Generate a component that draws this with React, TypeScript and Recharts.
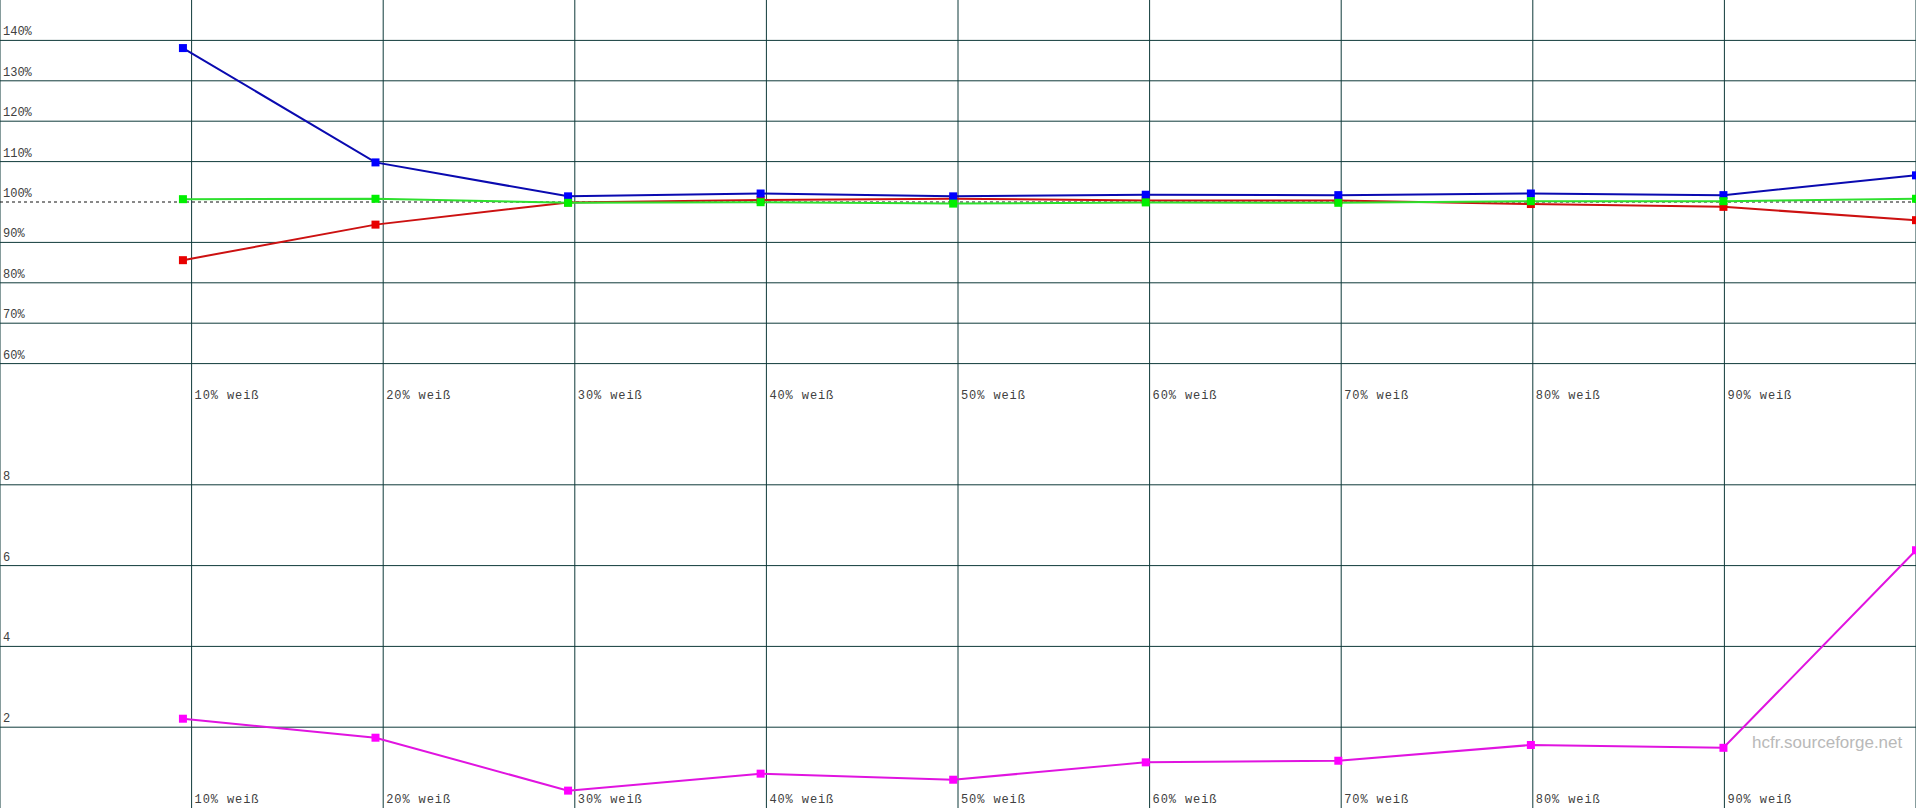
import {
  LineChart,
  Line,
  XAxis,
  YAxis,
  CartesianGrid,
  ReferenceLine,
} from "recharts";

// ---------------------------------------------------------------------------
// Data
// ---------------------------------------------------------------------------

const steps = [10, 20, 30, 40, 50, 60, 70, 80, 90, 100];
const gridSteps = [0, 10, 20, 30, 40, 50, 60, 70, 80, 90];

const redValues = [85.6, 94.4, 99.9, 100.5, 100.8, 100.4, 100.35, 99.5, 98.8, 95.5];
const greenValues = [100.7, 100.8, 99.8, 99.95, 99.6, 99.9, 99.8, 100.2, 100.2, 100.8];
const blueValues = [138.1, 109.8, 101.4, 102.1, 101.4, 101.8, 101.7, 102.1, 101.7, 106.6];
const deltaE = [2.21, 1.74, 0.43, 0.85, 0.7, 1.13, 1.17, 1.56, 1.49, 6.38];

const topTicks = [60, 70, 80, 90, 100, 110, 120, 130, 140];
const topGridLines = [60, 70, 80, 90, 110, 120, 130, 140];
const bottomTicks = [2, 4, 6, 8];

const topData = steps.map((pos, i) => ({
  pos,
  red: redValues[i],
  green: greenValues[i],
  blue: blueValues[i],
}));

const bottomData = steps.map((pos, i) => ({ pos, dE: deltaE[i] }));

// ---------------------------------------------------------------------------
// Styles
// ---------------------------------------------------------------------------

const W = 1916;
const H = 404;
const gridColor = "#0f3a3a";
const labelFont = "'Liberation Mono', 'DejaVu Sans Mono', monospace";
const labelColor = "#404040";

// ---------------------------------------------------------------------------
// Ticks & dots
// ---------------------------------------------------------------------------

function XLabel(props: any) {
  const { x, payload } = props;
  if (payload.value === 0) return <g />;
  return (
    <text
      x={x + 3}
      y={H - 5}
      fontFamily={labelFont}
      fontSize={12}
      letterSpacing={0.9}
      fill={labelColor}
      textAnchor="start"
    >
      {`${payload.value}% weiß`}
    </text>
  );
}

function YLabel(props: any) {
  const { y, payload, suffix } = props;
  return (
    <text
      x={3}
      y={y - 5}
      fontFamily={labelFont}
      fontSize={12}
      fill={labelColor}
      textAnchor="start"
    >
      {`${payload.value}${suffix ?? ""}`}
    </text>
  );
}

function SquareDot(props: any) {
  const { cx, cy, color } = props;
  if (cx == null || cy == null) return <g />;
  return <rect x={cx - 4} y={cy - 4} width={8} height={8} fill={color} />;
}

// ---------------------------------------------------------------------------
// App
// ---------------------------------------------------------------------------

export default function App() {
  return (
    <div style={{ position: "relative", width: W, height: H * 2, background: "#fff" }}>
      <style>{`html,body{margin:0;padding:0;overflow:hidden;background:#fff}`}</style>

      {/* RGB levels */}
      <LineChart width={W} height={H} data={topData} margin={{ top: 0, right: 0, bottom: 0, left: 0 }}>
        <CartesianGrid
          xAxisId="grid"
          stroke={gridColor}
          strokeWidth={1}
          horizontalValues={topGridLines}
        />
        <XAxis
          xAxisId="grid"
          dataKey="pos"
          type="number"
          domain={[0, 100]}
          ticks={gridSteps}
          interval={0}
          mirror
          height={20}
          tickSize={0}
          tickMargin={0}
          axisLine={false}
          tick={<XLabel />}
        />
        <XAxis xAxisId="data" dataKey="pos" type="number" domain={[0.5, 100]} hide />
        <YAxis
          type="number"
          domain={[50, 150]}
          ticks={topTicks}
          interval={0}
          mirror
          width={40}
          tickSize={0}
          tickMargin={0}
          axisLine={false}
          tick={<YLabel suffix="%" />}
        />
        <ReferenceLine
          xAxisId="grid"
          y={100}
          stroke="#111"
          strokeWidth={1}
          strokeDasharray="3 3"
        />
        <Line
          xAxisId="data"
          dataKey="red"
          stroke="#cc1111"
          strokeWidth={2}
          dot={<SquareDot color="#e80000" />}
          activeDot={false}
          isAnimationActive={false}
        />
        <Line
          xAxisId="data"
          dataKey="blue"
          stroke="#0a0ab0"
          strokeWidth={2}
          dot={<SquareDot color="#0000ff" />}
          activeDot={false}
          isAnimationActive={false}
        />
        <Line
          xAxisId="data"
          dataKey="green"
          stroke="#2ee02e"
          strokeWidth={2}
          dot={<SquareDot color="#00f000" />}
          activeDot={false}
          isAnimationActive={false}
        />
      </LineChart>

      {/* Delta E */}
      <LineChart width={W} height={H} data={bottomData} margin={{ top: 0, right: 0, bottom: 0, left: 0 }}>
        <CartesianGrid
          xAxisId="grid"
          stroke={gridColor}
          strokeWidth={1}
          horizontalValues={bottomTicks}
        />
        <XAxis
          xAxisId="grid"
          dataKey="pos"
          type="number"
          domain={[0, 100]}
          ticks={gridSteps}
          interval={0}
          mirror
          height={20}
          tickSize={0}
          tickMargin={0}
          axisLine={false}
          tick={<XLabel />}
        />
        <XAxis xAxisId="data" dataKey="pos" type="number" domain={[0.5, 100]} hide />
        <YAxis
          type="number"
          domain={[0, 10]}
          ticks={bottomTicks}
          interval={0}
          mirror
          width={40}
          tickSize={0}
          tickMargin={0}
          axisLine={false}
          tick={<YLabel />}
        />
        <Line
          xAxisId="data"
          dataKey="dE"
          stroke="#e014e0"
          strokeWidth={2}
          dot={<SquareDot color="#ff00ff" />}
          activeDot={false}
          isAnimationActive={false}
        />
      </LineChart>

      <svg
        width={W}
        height={H * 2}
        style={{ position: "absolute", left: 0, top: 0, pointerEvents: "none" }}
      >
        <text
          x={1752}
          y={748}
          fontFamily="'Liberation Sans', Arial, sans-serif"
          fontSize={17}
          fill="#b9b9b9"
        >
          hcfr.sourceforge.net
        </text>
      </svg>
    </div>
  );
}
